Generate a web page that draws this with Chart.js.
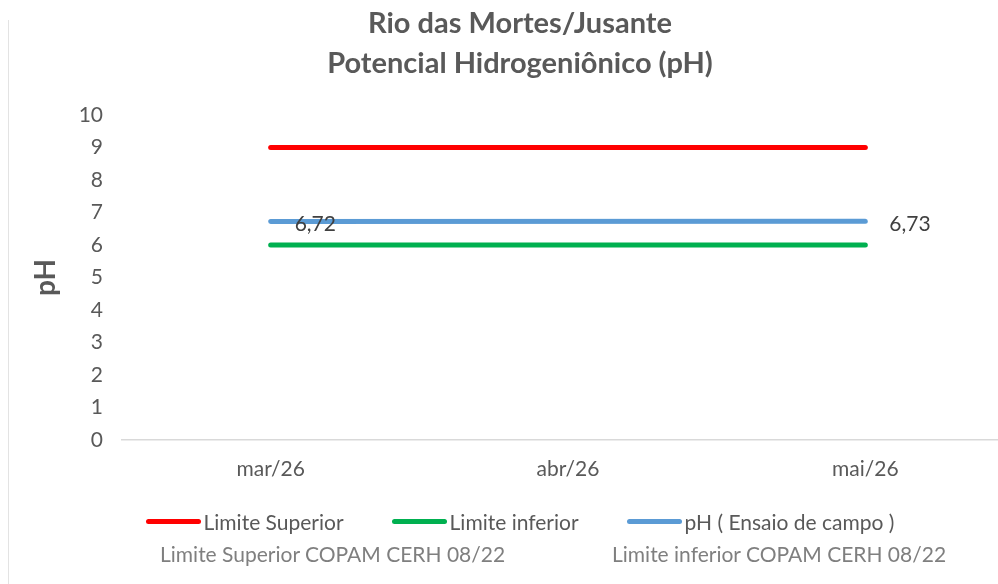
<!DOCTYPE html>
<html>
<head>
<meta charset="utf-8">
<script src="https://cdn.jsdelivr.net/npm/chart.js@4.4.1/dist/chart.umd.min.js"></script>
<style>
    html, body { margin: 0; padding: 0; background: #fff; overflow: hidden; }
    #wrap { position: relative; width: 1040px; height: 584px; }
    #phChart { display: block; }
    #edge { position: absolute; left: 8px; top: 20px; width: 1px; height: 564px; background: #e3e3e3; }
    #legend { position: absolute; left: 0; top: 508px; width: 1040px; height: 26px; display: flex; justify-content: center; align-items: center; gap: 48px; }
    #legend .item { display: flex; align-items: center; font: 21px Lato, sans-serif; color: #595959; white-space: nowrap; }
    #legend .sw { width: 55px; height: 5px; border-radius: 3px; margin-right: 3px; }
    .note { position: absolute; top: 541px; font: 21px Lato, sans-serif; line-height: 26px; color: #7f7f7f; white-space: nowrap; }
</style>
</head>
<body>
<div id="wrap">
    <canvas id="phChart" width="1040" height="584"></canvas>
    <div id="edge"></div>
    <div id="legend"></div>
    <span class="note" style="left:160px">Limite Superior COPAM CERH 08/22</span>
    <span class="note" style="left:612px">Limite inferior COPAM CERH 08/22</span>
</div>
<script>
// chart data
const months = ['mar/26', 'abr/26', 'mai/26'];
const limiteSuperior = [9, 9, 9];
const limiteInferior = [6, 6, 6];
const phCampo = [6.72, null, 6.73];
const yTicks = [0, 1, 2, 3, 4, 5, 6, 7, 8, 9, 10];

const FONT = 'Lato, sans-serif';
const GREY = '#595959';

// draws "6,72" style labels to the right of each pH point
const phLabels = {
    id: 'phLabels',
    afterDatasetsDraw(chart) {
        const ctx = chart.ctx;
        const meta = chart.getDatasetMeta(2);
        ctx.save();
        ctx.font = '21px ' + FONT;
        ctx.fillStyle = '#404040';
        ctx.textAlign = 'left';
        ctx.textBaseline = 'middle';
        meta.data.forEach((pt, i) => {
            const v = phCampo[i];
            if (v === null) return;
            ctx.fillText(v.toFixed(2).replace('.', ','), pt.x + 24, pt.y + 3);
        });
        ctx.restore();
    }
};

const ctx = document.getElementById('phChart').getContext('2d');
const chart = new Chart(ctx, {
    type: 'line',
    data: {
        labels: months,
        datasets: [
            { label: 'Limite Superior', data: limiteSuperior, borderColor: '#FF0000', backgroundColor: '#FF0000', borderWidth: 5, borderCapStyle: 'round', pointRadius: 0 },
            { label: 'Limite inferior', data: limiteInferior, borderColor: '#00B050', backgroundColor: '#00B050', borderWidth: 5, borderCapStyle: 'round', pointRadius: 0 },
            { label: 'pH ( Ensaio de campo )', data: phCampo, borderColor: '#5B9BD5', backgroundColor: '#5B9BD5', borderWidth: 5, borderCapStyle: 'round', pointRadius: 0, spanGaps: true }
        ]
    },
    options: {
        responsive: false,
        animation: false,
        layout: { padding: { left: 26, right: 26, top: 0, bottom: 85 } },
        plugins: {
            tooltip: { enabled: false },
            legend: { display: false },
            title: {
                display: true,
                text: ['Rio das Mortes/Jusante', 'Potencial Hidrogeniônico (pH)'],
                color: GREY,
                font: { family: FONT, size: 29, weight: 'bold', lineHeight: 1.38 },
                padding: { top: 4, bottom: 31 }
            }
        },
        scales: {
            x: {
                offset: true,
                grid: { display: false, drawTicks: false },
                border: { display: true, color: '#D9D9D9', width: 1.5 },
                ticks: { color: GREY, font: { family: FONT, size: 21 }, padding: 17 }
            },
            y: {
                min: 0,
                max: 10,
                afterBuildTicks: s => { s.ticks = yTicks.map(v => ({ value: v })); },
                afterFit: s => { s.width = 96; },
                grid: { display: false, drawTicks: false },
                border: { display: false },
                ticks: { color: GREY, font: { family: FONT, size: 21 }, padding: 19 },
                title: {
                    display: true,
                    text: 'pH',
                    color: GREY,
                    font: { family: FONT, size: 28, weight: 'bold' },
                    padding: { top: 3, bottom: 0 }
                }
            }
        }
    },
    plugins: [phLabels]
});

// legend built from the chart's datasets
const legendEl = document.getElementById('legend');
chart.data.datasets.forEach(ds => {
    const item = document.createElement('div');
    item.className = 'item';
    item.innerHTML = `<span class="sw" style="background:${ds.borderColor}"></span>${ds.label}`;
    legendEl.appendChild(item);
});
</script>
</body>
</html>
